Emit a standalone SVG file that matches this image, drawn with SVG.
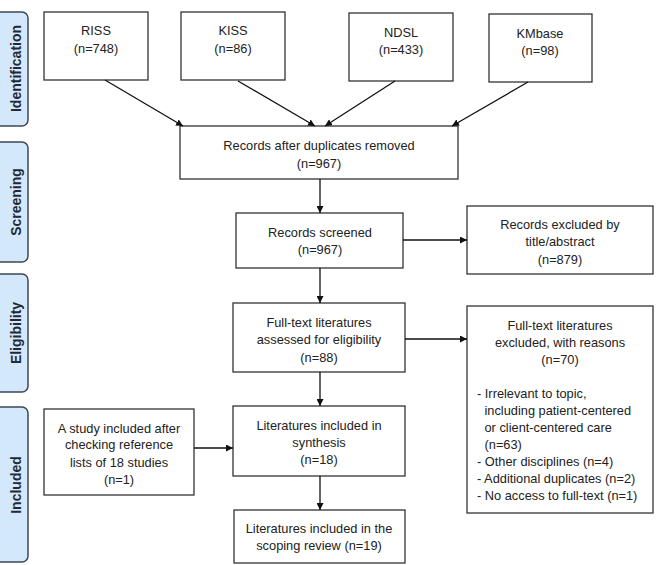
<svg xmlns="http://www.w3.org/2000/svg" width="658" height="565" viewBox="0 0 658 565">
<defs>
<marker id="ah" viewBox="0 0 10 10" refX="10" refY="5" markerWidth="7" markerHeight="7" markerUnits="userSpaceOnUse" orient="auto">
<path d="M0,0 L10,5 L0,10 z" fill="#111"/>
</marker>
</defs>
<style>
.box{fill:#fff;stroke:#333;stroke-width:1.3}
.lab{fill:#d3e8fa;stroke:#3e4756;stroke-width:1.5}
.t{font-family:"Liberation Sans",Arial,sans-serif;font-size:12.8px;fill:#222;text-anchor:middle}
.l{font-family:"Liberation Sans",Arial,sans-serif;font-size:12.8px;fill:#222}
.s{font-family:"Liberation Sans",Arial,sans-serif;font-size:14px;font-weight:bold;fill:#1f2a36;text-anchor:middle}
.c{stroke:#111;stroke-width:1.3;fill:none;marker-end:url(#ah)}
</style>
<rect width="658" height="565" fill="#fff"/>
<g id="stage-identification"><rect class="lab" x="-10" y="12" width="38" height="114" rx="6"/><text class="s" transform="translate(20.5,68.5) rotate(-90)">Identification</text></g>
<g id="stage-screening"><rect class="lab" x="-10" y="142" width="38" height="120" rx="6"/><text class="s" transform="translate(20.5,202) rotate(-90)">Screening</text></g>
<g id="stage-eligibility"><rect class="lab" x="-10" y="274" width="38" height="118" rx="6"/><text class="s" transform="translate(20.5,333) rotate(-90)">Eligibility</text></g>
<g id="stage-included"><rect class="lab" x="-10" y="407" width="38" height="155" rx="6"/><text class="s" transform="translate(20.5,485) rotate(-90)">Included</text></g>

<g id="riss"><rect class="box" x="44" y="12" width="104" height="68"/><text class="t" x="96" y="35">RISS</text><text class="t" x="96" y="52.5">(n=748)</text></g>
<g id="kiss"><rect class="box" x="181" y="12" width="104" height="68"/><text class="t" x="233" y="35">KISS</text><text class="t" x="233" y="52.5">(n=86)</text></g>
<g id="ndsl"><rect class="box" x="349" y="13" width="104" height="68"/><text class="t" x="401" y="36.5">NDSL</text><text class="t" x="401" y="54">(n=433)</text></g>
<g id="kmbase"><rect class="box" x="489" y="14" width="103" height="68"/><text class="t" x="540" y="37.5">KMbase</text><text class="t" x="540" y="55">(n=98)</text></g>

<g id="dedup"><rect class="box" x="180" y="126" width="278" height="53"/><text class="t" x="319" y="149.5">Records after duplicates removed</text><text class="t" x="319" y="167.5">(n=967)</text></g>
<g id="screened"><rect class="box" x="236" y="213" width="167" height="55"/><text class="t" x="320" y="236.5">Records screened</text><text class="t" x="320" y="254">(n=967)</text></g>
<g id="excluded-title"><rect class="box" x="467" y="206" width="186" height="68"/><text class="t" x="560" y="228.5">Records excluded by</text><text class="t" x="560" y="246">title/abstract</text><text class="t" x="560" y="263.5">(n=879)</text></g>
<g id="fulltext"><rect class="box" x="233" y="303" width="172" height="69"/><text class="t" x="319" y="326.5">Full-text literatures</text><text class="t" x="319" y="344">assessed for eligibility</text><text class="t" x="319" y="361.5">(n=88)</text></g>
<g id="fulltext-excluded"><rect class="box" x="467" y="306" width="186" height="207"/>
<text class="t" x="560" y="329.5">Full-text literatures</text><text class="t" x="560" y="346.5">excluded, with reasons</text><text class="t" x="560" y="364">(n=70)</text>
<text class="l" x="477" y="397.5">- Irrelevant to topic,</text>
<text class="l" x="484.5" y="414.5">including patient-centered</text>
<text class="l" x="484.5" y="431.5">or client-centered care</text>
<text class="l" x="484.5" y="448.5">(n=63)</text>
<text class="l" x="477" y="466">- Other disciplines (n=4)</text>
<text class="l" x="477" y="482.5">- Additional duplicates (n=2)</text>
<text class="l" x="477" y="499.5">- No access to full-text (n=1)</text>
</g>
<g id="reflist"><rect class="box" x="44" y="409" width="150" height="86"/><text class="t" x="119" y="432.5">A study included after</text><text class="t" x="119" y="449">checking reference</text><text class="t" x="119" y="466.5">lists of 18 studies</text><text class="t" x="119" y="483.5">(n=1)</text></g>
<g id="synthesis"><rect class="box" x="233" y="406" width="172" height="70"/><text class="t" x="319" y="429.5">Literatures included in</text><text class="t" x="319" y="447">synthesis</text><text class="t" x="319" y="464">(n=18)</text></g>
<g id="final"><rect class="box" x="234" y="510" width="171" height="53"/><text class="t" x="319" y="532.5">Literatures included in the</text><text class="t" x="319" y="550">scoping review (n=19)</text></g>

<g id="connectors">
<line class="c" x1="105" y1="80" x2="183" y2="126"/>
<line class="c" x1="238" y1="81" x2="315" y2="126"/>
<line class="c" x1="395" y1="81" x2="325" y2="126"/>
<line class="c" x1="528" y1="82" x2="452" y2="126"/>
<line class="c" x1="320" y1="179" x2="320" y2="213"/>
<line class="c" x1="403" y1="240" x2="467" y2="240"/>
<line class="c" x1="320" y1="268" x2="320" y2="303"/>
<line class="c" x1="405" y1="339" x2="467" y2="339"/>
<line class="c" x1="320" y1="372" x2="320" y2="406"/>
<line class="c" x1="194" y1="448" x2="233" y2="448"/>
<line class="c" x1="320" y1="476" x2="320" y2="510"/>
</g>
</svg>
